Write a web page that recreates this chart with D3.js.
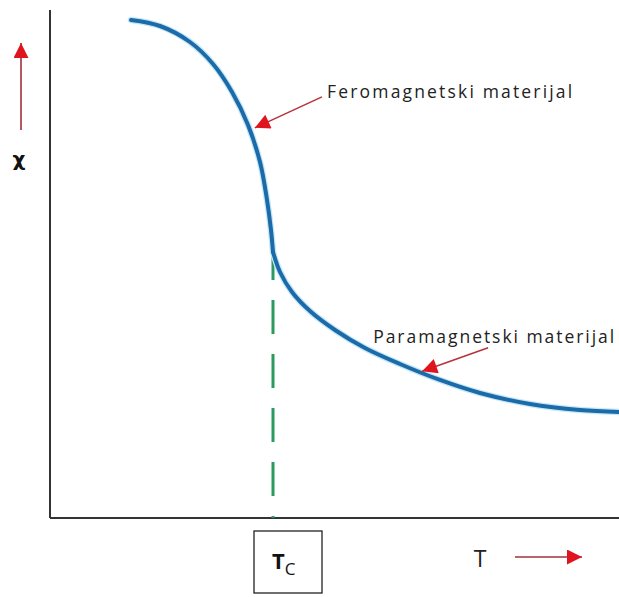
<!DOCTYPE html>
<html><head><meta charset="utf-8">
<script src="https://cdn.jsdelivr.net/npm/d3@7"></script>
<style>html,body{margin:0;padding:0;background:#fff;}svg{display:block;}</style>
</head><body>
<svg id="c" width="619" height="597"></svg>
<script>
// Data (temperature T and susceptibility chi, arbitrary units)
// Ferromagnetic branch (below Curie temperature)
const tempFerro = [14.24, 19.33, 24.60, 28.65, 31.99, 34.80, 36.91, 38.14, 38.84, 39.19];
const chiFerro  = [98.03, 96.85, 93.70, 89.37, 83.86, 77.36, 70.08, 62.60, 56.69, 52.36];
// Paramagnetic branch (above Curie temperature)
const tempPara = [39.19, 40.42, 42.53, 45.69, 50.09, 55.36, 61.51, 68.54, 75.57, 84.36, 93.15, 100.0];
const chiPara  = [52.36, 48.43, 44.49, 40.75, 37.01, 33.46, 30.31, 27.17, 24.61, 22.44, 21.26, 20.87];
const curieT = 39.19;
const curieChi = 52.36;
const annotationLabels = ["Feromagnetski materijal", "Paramagnetski materijal"];
const annotationText = [[48.7, 82.7], [56.8, 34.4]];
const annotationArrowTail = [[47.8, 82.9], [77.0, 33.5]];
const annotationArrowTip = [[36.0, 76.8], [65.4, 28.9]];
const axisLabels = {y: "χ", x: "T", tc: "T", tcSub: "C"};

const svg = d3.select("#c");
const x = d3.scaleLinear().domain([0, 100]).range([50, 619]);
const y = d3.scaleLinear().domain([0, 100]).range([518, 10]);

const defs = svg.append("defs");
defs.append("marker").attr("id","ah").attr("viewBox","0 0 10 10").attr("refX",10).attr("refY",5)
  .attr("markerWidth",17).attr("markerHeight",15).attr("markerUnits","userSpaceOnUse").attr("orient","auto")
  .append("path").attr("d","M0,0 L10,5 L0,10 Z").attr("fill","#e0141e");
defs.append("marker").attr("id","ah2").attr("viewBox","0 0 10 10").attr("refX",10).attr("refY",5)
  .attr("markerWidth",18).attr("markerHeight",15).attr("markerUnits","userSpaceOnUse").attr("orient","auto")
  .append("path").attr("d","M0,0 L10,5 L0,10 Z").attr("fill","#e0141e");

// Axes (lines only)
svg.append("line").attr("x1",x(0)).attr("x2",x(0)).attr("y1",y(100)).attr("y2",y(0))
  .attr("stroke","#333").attr("stroke-width",2);
svg.append("line").attr("x1",x(0)).attr("x2",x(100)).attr("y1",y(0)).attr("y2",y(0))
  .attr("stroke","#333").attr("stroke-width",2);

// Curie dashed line
svg.append("line").attr("x1",x(curieT)).attr("x2",x(curieT)).attr("y1",y(curieChi)-6).attr("y2",y(0))
  .attr("stroke","#2a9a5e").attr("stroke-width",3).attr("stroke-dasharray","34,20");

// Curve (two branches meeting at Curie point)
const line = d3.line().x(d=>x(d[0])).y(d=>y(d[1])).curve(d3.curveCatmullRom.alpha(0.5));
const branches = [
  tempFerro.map((t,i)=>[t, chiFerro[i]]),
  tempPara.map((t,i)=>[t, chiPara[i]])
];
branches.forEach(pts=>{
  svg.append("path").datum(pts).attr("d",line).attr("fill","none")
    .attr("stroke","#c4e8f8").attr("stroke-width",6.5).attr("stroke-linecap","round");
});
branches.forEach(pts=>{
  svg.append("path").datum(pts).attr("d",line).attr("fill","none")
    .attr("stroke","#1c6aa8").attr("stroke-width",4).attr("stroke-linecap","round");
});

// Annotations
annotationLabels.forEach((lab,i)=>{
  svg.append("line")
    .attr("x1",x(annotationArrowTail[i][0])).attr("y1",y(annotationArrowTail[i][1]))
    .attr("x2",x(annotationArrowTip[i][0])).attr("y2",y(annotationArrowTip[i][1]))
    .attr("stroke","#b8333a").attr("stroke-width",1.6).attr("marker-end","url(#ah)");
  svg.append("text").attr("x",x(annotationText[i][0])).attr("y",y(annotationText[i][1]))
    .attr("font-family","Open Sans").attr("font-size",17.5).attr("fill","#222")
    .attr("textLength",i===0?245:241).text(lab);
});

// Y-axis arrow and label
svg.append("line").attr("x1",21).attr("x2",21).attr("y1",130).attr("y2",43)
  .attr("stroke","#a03038").attr("stroke-width",1.6).attr("marker-end","url(#ah2)");
svg.append("text").attr("x",19).attr("y",166).attr("text-anchor","middle")
  .attr("font-family","DejaVu Sans").attr("font-weight","bold").attr("font-size",20).attr("fill","#111")
  .text(axisLabels.y);

// X-axis label and arrow
svg.append("text").attr("x",480).attr("y",567).attr("text-anchor","middle")
  .attr("font-family","Open Sans").attr("font-size",23).attr("fill","#222").text(axisLabels.x);
svg.append("line").attr("x1",515).attr("x2",582).attr("y1",557).attr("y2",557)
  .attr("stroke","#a03038").attr("stroke-width",1.6).attr("marker-end","url(#ah2)");

// Tc box
svg.append("rect").attr("x",254).attr("y",531).attr("width",68).attr("height",62)
  .attr("fill","#fff").attr("stroke","#222").attr("stroke-width",1.3);
const tc = svg.append("text").attr("x",272).attr("y",569)
  .attr("font-family","Open Sans").attr("fill","#111");
tc.append("tspan").attr("font-weight","bold").attr("font-size",22).text(axisLabels.tc);
tc.append("tspan").attr("font-size",17).attr("dy",6).text(axisLabels.tcSub);
</script>
</body></html>
